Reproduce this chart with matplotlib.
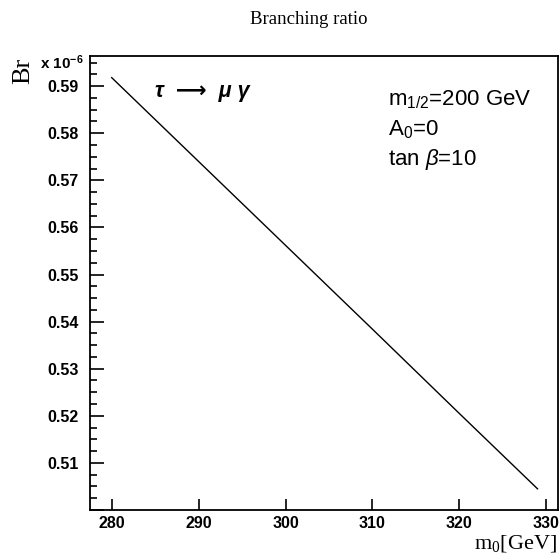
import numpy as np
import matplotlib
matplotlib.use("Agg")
import matplotlib.pyplot as plt
from matplotlib.ticker import MultipleLocator, FuncFormatter

# m0 scan, Br(tau -> mu gamma) in units of 1e-6
m0 = [280, 290, 300, 310, 320, 329]
br = [0.5918, 0.5740, 0.5562, 0.5384, 0.5205, 0.5045]

params = ["m$_{1/2}$=200 GeV", "A$_0$=0", r"tan $\mathit{\beta}$=10"]

plt.rcParams['mathtext.fontset'] = 'custom'
plt.rcParams['mathtext.rm'] = 'Liberation Sans'
plt.rcParams['mathtext.it'] = 'Liberation Sans:italic'
plt.rcParams['mathtext.default'] = 'regular'

fig = plt.figure(figsize=(5.59, 5.56), dpi=100)
ax = fig.add_axes([90/559, 1 - 510/556, (557.5 - 90)/559, (510 - 56)/556])

ax.plot(m0, br, color='black', lw=1.0)

ax.set_xlim(277.5, 331.3)
ax.set_ylim(0.50, 0.5964)

ax.xaxis.set_major_locator(MultipleLocator(10))
ax.yaxis.set_major_locator(MultipleLocator(0.01))
ax.yaxis.set_minor_locator(MultipleLocator(0.0025))
# lowest label (0.50) is not shown in the original
ax.yaxis.set_major_formatter(FuncFormatter(lambda v, p: "" if v < 0.505 else f"{v:.2f}"))

ax.tick_params(axis='both', which='both', direction='in', top=False, right=False, width=1.2)
ax.tick_params(axis='x', which='major', length=8, pad=4)
ax.tick_params(axis='y', which='major', length=10, pad=8)
ax.tick_params(axis='y', which='minor', length=5)
for s in ax.spines.values():
    s.set_linewidth(1.3)

for lab in ax.get_xticklabels() + ax.get_yticklabels():
    lab.set_fontfamily('Liberation Sans')
    lab.set_fontweight('bold')
    lab.set_fontsize(11.5)

fig.text(308.7/559, 1 - 24/556, "Branching ratio", family='Liberation Serif', fontsize=13.5,
         ha='center', va='baseline')
fig.text(12/559, 1 - 71/556, "Br", family='Liberation Serif', fontsize=19, rotation=90,
         ha='left', va='center')
fig.text(40/559, 1 - 69/556, r"x 10$^{-6}$", family='Liberation Sans', fontweight='bold',
         fontsize=11, ha='left', va='baseline')
fig.text(557/559, 1 - 548/556, "m$_0$[GeV]", family='Liberation Serif', fontsize=16,
         ha='right', va='baseline', math_fontfamily='stix')

fig.text(155/559, 1 - 97/556, "τ  ⟶  μ γ", family=['Liberation Sans', 'DejaVu Sans'],
         style='italic', fontweight='bold', fontsize=15.5, ha='left', va='baseline')
for i, t in enumerate(params):
    fig.text(388/559, 1 - (105 + 30*i)/556, t, family='Liberation Sans', fontsize=16,
             ha='left', va='baseline')

fig.savefig("out.png", dpi=100)
